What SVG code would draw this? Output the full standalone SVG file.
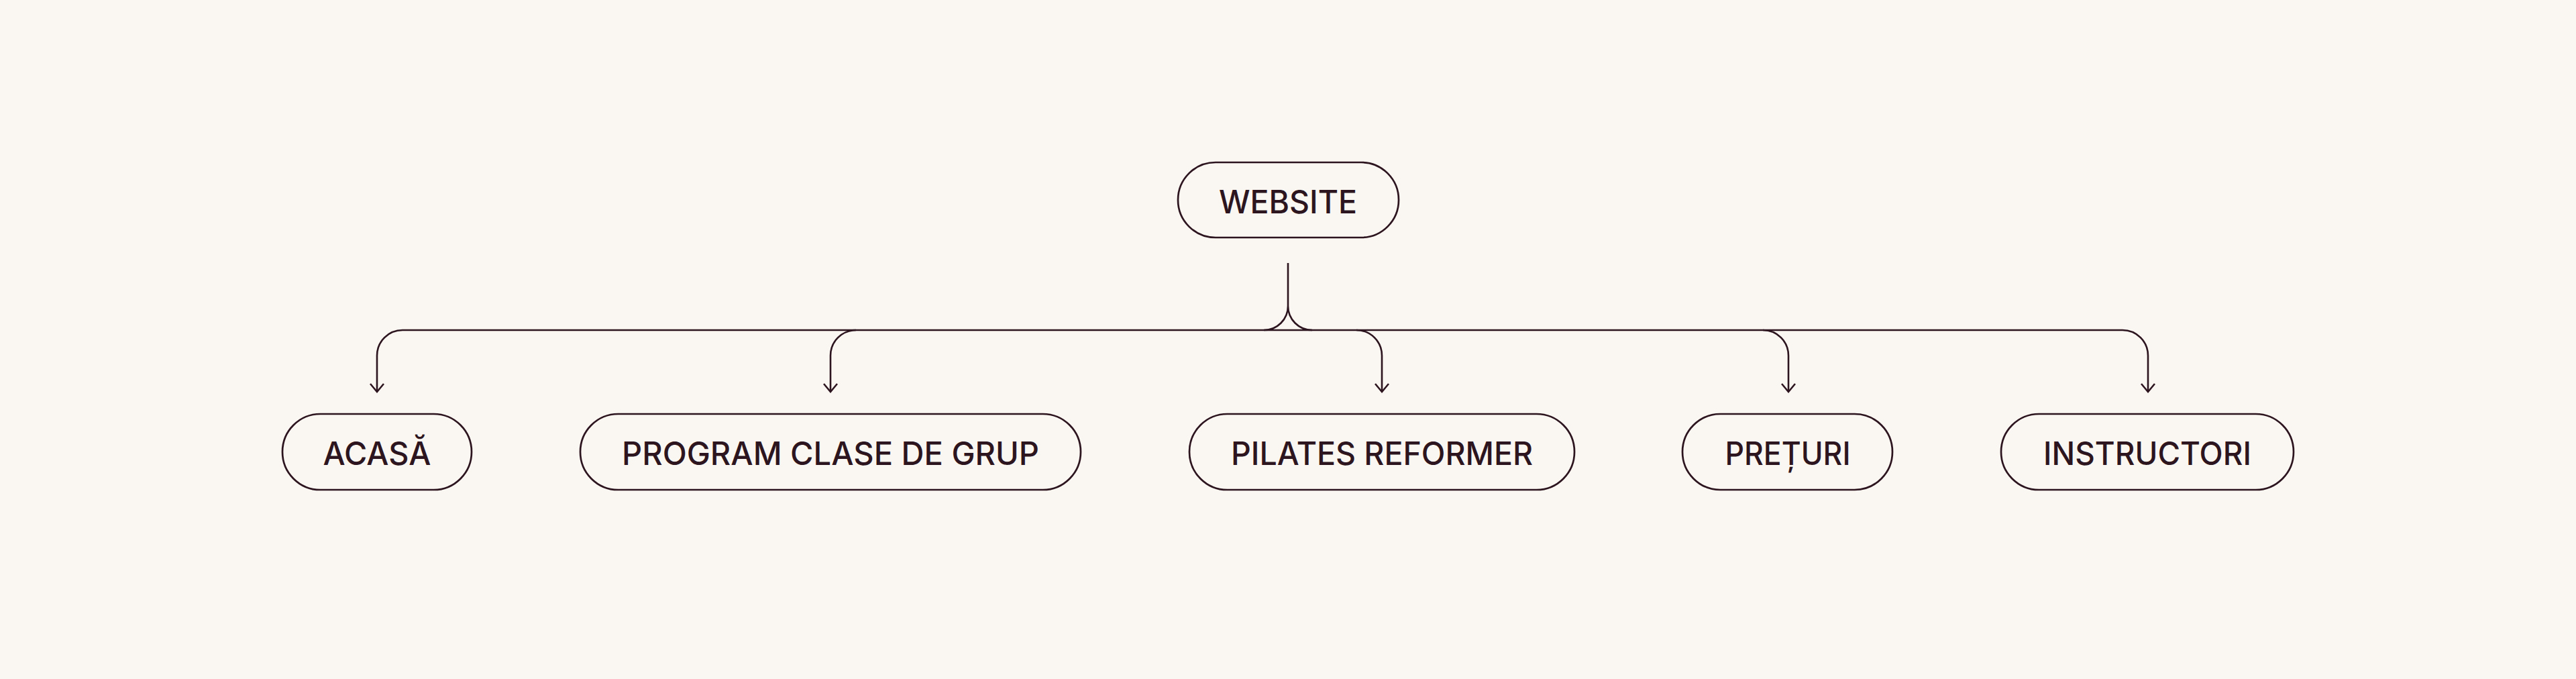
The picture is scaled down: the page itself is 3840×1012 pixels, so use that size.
<svg xmlns="http://www.w3.org/2000/svg" width="3840" height="1012" viewBox="0 0 3840 1012">
  <style>
    .box { fill: none; stroke: #2D1520; stroke-width: 2.7; }
    .lbl { font-family: Inter, "Noto Sans", "Liberation Sans", sans-serif; font-size: 48px; font-weight: 500; fill: #2D1520; text-anchor: middle; }
    .wire { fill: none; stroke: #2D1520; stroke-width: 2.6; }
  </style>
  <defs>
    <marker id="arrow" markerUnits="userSpaceOnUse" markerWidth="30" markerHeight="30" refX="15" refY="15" orient="auto">
      <polyline points="3,5 15,15 3,25" fill="none" stroke="#2D1520" stroke-width="2.6"/>
    </marker>
  </defs>
  <rect width="3840" height="1012" fill="#FAF6F1"/>

  <g id="connectors">
    <path class="wire" d="M1920 392 V456 A36 36 0 0 1 1884 492 M1920 456 A36 36 0 0 0 1956 492"/>
    <path class="wire" d="M600 492 H3164"/>
    <path class="wire" d="M600 492 A38 38 0 0 0 562 530 V584" marker-end="url(#arrow)"/>
    <path class="wire" d="M1276 492 A38 38 0 0 0 1238 530 V584" marker-end="url(#arrow)"/>
    <path class="wire" d="M2022 492 A38 38 0 0 1 2060 530 V584" marker-end="url(#arrow)"/>
    <path class="wire" d="M2628 492 A38 38 0 0 1 2666 530 V584" marker-end="url(#arrow)"/>
    <path class="wire" d="M3164 492 A38 38 0 0 1 3202 530 V584" marker-end="url(#arrow)"/>
  </g>

  <g id="node-website">
    <rect class="box" x="1756" y="242" width="329" height="112" rx="56"/>
    <text class="lbl" x="1920" y="318" textLength="206" lengthAdjust="spacingAndGlyphs">WEBSITE</text>
  </g>
  <g id="node-acasa">
    <rect class="box" x="421" y="617" width="282" height="113" rx="56.5"/>
    <text class="lbl" x="562" y="693" textLength="161" lengthAdjust="spacingAndGlyphs">ACASĂ</text>
  </g>
  <g id="node-program">
    <rect class="box" x="865" y="617" width="746" height="113" rx="56.5"/>
    <text class="lbl" x="1238" y="693" textLength="622" lengthAdjust="spacingAndGlyphs">PROGRAM CLASE DE GRUP</text>
  </g>
  <g id="node-pilates">
    <rect class="box" x="1773" y="617" width="574" height="113" rx="56.5"/>
    <text class="lbl" x="2060" y="693" textLength="450" lengthAdjust="spacingAndGlyphs">PILATES REFORMER</text>
  </g>
  <g id="node-preturi">
    <rect class="box" x="2508" y="617" width="313" height="113" rx="56.5"/>
    <text class="lbl" x="2665" y="693" textLength="187" lengthAdjust="spacingAndGlyphs">PREȚURI</text>
  </g>
  <g id="node-instructori">
    <rect class="box" x="2983" y="617" width="436" height="113" rx="56.5"/>
    <text class="lbl" x="3201" y="693" textLength="310" lengthAdjust="spacingAndGlyphs">INSTRUCTORI</text>
  </g>
</svg>
